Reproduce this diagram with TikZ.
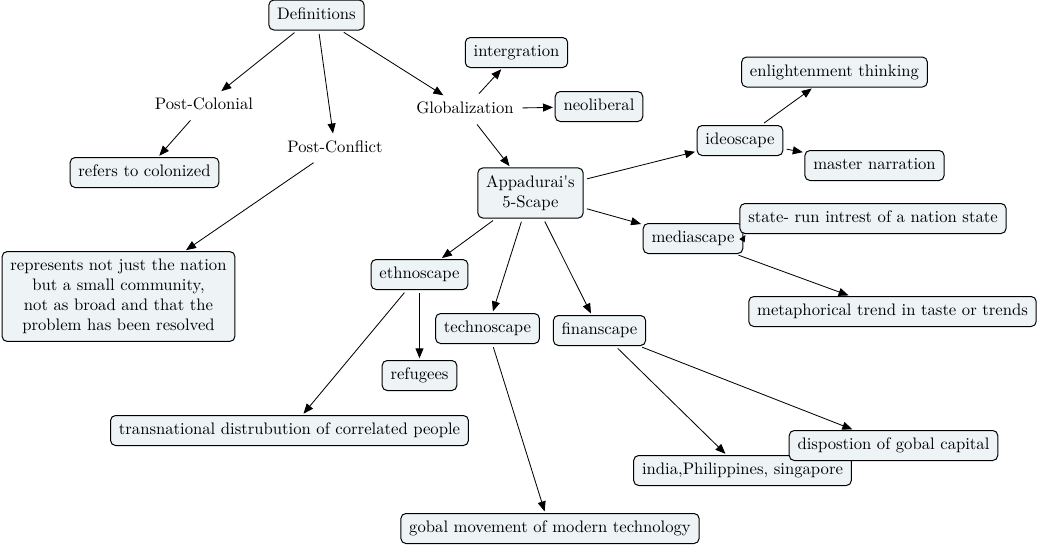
\documentclass[tikz,border=0pt]{standalone}
\usepackage{tikz}
\usetikzlibrary{arrows.meta}
\definecolor{cmapfill}{RGB}{238,244,246}

\begin{document}
\begin{tikzpicture}[x=0.6pt, y=-0.6pt,
        box/.style={draw, rounded corners=3pt, fill=cmapfill, line width=0.6pt, inner xsep=5pt, inner ysep=4.5pt},
        concept/.style={box, text height=7pt, text depth=2pt},
        plain/.style={inner sep=3pt, text height=7pt, text depth=2pt},
        link/.style={-{Triangle[length=6pt,width=4.8pt]}, line width=0.5pt, shorten <=2pt, shorten >=1pt}]
        \useasboundingbox (0,0) rectangle (1040,547);

        % Definitions branch
        \node[concept] (defs) at (316.5,15) {Definitions};
        \node[plain] (postcol) at (204,105) {Post-Colonial};
        \node[plain] (postcon) at (335,148) {Post-Conflict};
        \node[concept] (colonized) at (144.5,172.5) {refers to colonized};
        \node[box, align=center] (community) at (118.5,296.5) {represents not just the nation\\but a small community,\\not as broad and that the\\problem has been resolved};

        % Globalization branch
        \node[plain] (glob) at (465,109) {Globalization};
        \node[concept] (integ) at (516.5,52.5) {intergration};
        \node[concept] (neolib) at (599,106.5) {neoliberal};
        \node[box, align=center] (appa) at (530.5,193) {Appadurai\textquotesingle s\\5-Scape};

        % The five scapes
        \node[concept] (ideo) at (740,140.5) {ideoscape};
        \node[concept] (enlight) at (834.5,72) {enlightenment thinking};
        \node[concept] (master) at (874.5,165.5) {master narration};
        \node[concept] (media) at (693,238.5) {mediascape};
        \node[concept] (state) at (873,218.5) {state- run intrest of a nation state};
        \node[concept] (trend) at (892.5,311.5) {metaphorical trend in taste or trends};
        \node[concept] (ethno) at (419.5,274.5) {ethnoscape};
        \node[concept] (refug) at (419.5,375.5) {refugees};
        \node[concept] (transn) at (289.5,430.5) {transnational distrubution of correlated people};
        \node[concept] (techno) at (487.5,328.5) {technoscape};
        \node[concept] (gobal) at (550,528.5) {gobal movement of modern technology};
        \node[concept] (finan) at (599.5,330.5) {finanscape};
        \node[concept] (india) at (742.5,470.5) {india,Philippines, singapore};
        \node[concept] (capital) at (893.5,445.5) {dispostion of gobal capital};

        % Links
        \draw[link] (defs) -- (postcol);
        \draw[link] (defs) -- (postcon);
        \draw[link] (defs) -- (glob);
        \draw[link] (postcol) -- (colonized);
        \draw[link] (postcon) -- (community);
        \draw[link] (glob) -- (integ);
        \draw[link] (glob) -- (neolib);
        \draw[link] (glob) -- (appa);
        \draw[link] (appa) -- (ideo);
        \draw[link] (ideo) -- (enlight);
        \draw[link] (ideo) -- (master);
        \draw[link] (appa) -- (media);
        \draw[-{Triangle[length=4pt,width=3.6pt]}, line width=0.5pt] (media.east) -- ([xshift=3.6pt,yshift=-0.6pt]state.south west);
        \draw[link] (media) -- (trend);
        \draw[link] (appa) -- (ethno);
        \draw[link] (appa) -- (techno);
        \draw[link] (appa) -- (finan);
        \draw[link] (ethno) -- (refug);
        \draw[link] (ethno) -- (transn);
        \draw[link] (techno) -- (gobal);
        \draw[link] (finan) -- (india);
        \draw[link] (finan) -- (capital);
    \end{tikzpicture}
\end{document}
